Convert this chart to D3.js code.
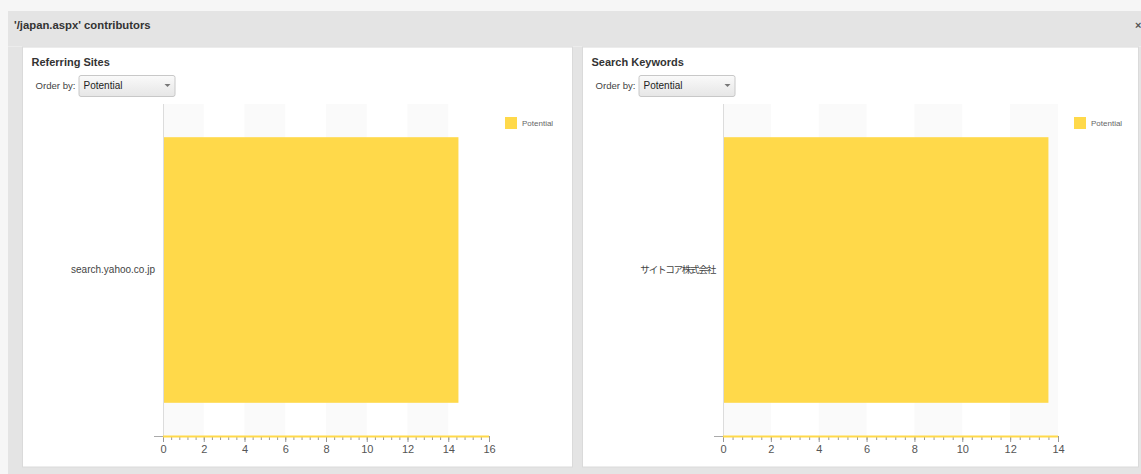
<!DOCTYPE html>
<html><head><meta charset="utf-8">
<script src="https://cdn.jsdelivr.net/npm/d3@7"></script>
<style>
html,body{margin:0;padding:0;background:#f6f6f6;}
svg{display:block;font-family:"Liberation Sans",Arial,sans-serif;}
</style></head>
<body>
<svg id="c" width="1141" height="474"></svg>
<script>
const dialogTitle = "'/japan.aspx' contributors";
const panelTitles = ["Referring Sites", "Search Keywords"];
const orderOptions = ["Potential"];
const seriesName = "Potential";
const leftCategories = ["search.yahoo.co.jp"];
const leftValues = [14.5];
const leftTicks = [0, 2, 4, 6, 8, 10, 12, 14, 16];
const rightCategories = ["サイトコア株式会社"];
const rightValues = [13.6];
const rightTicks = [0, 2, 4, 6, 8, 10, 12, 14];

const svg = d3.select("#c");
const barColor = "#ffd94a";

// chrome
svg.append("rect").attr("x",0).attr("y",0).attr("width",1141).attr("height",474).attr("fill","#f6f6f6");
svg.append("rect").attr("x",8).attr("y",11).attr("width",1133).attr("height",463).attr("fill","#e4e4e4");
svg.append("line").attr("x1",8).attr("x2",1141).attr("y1",46.5).attr("y2",46.5).attr("stroke","#ececec");
svg.append("text").attr("x",14).attr("y",29).attr("font-size",11.3).attr("font-weight","bold").attr("fill","#333").text(dialogTitle);
svg.append("text").attr("x",1135).attr("y",29).attr("font-size",11).attr("font-weight","bold").attr("fill","#555").text("×");

function panel(px, pw, title, cats, vals, ticks, plotX0, plotX1, cjk) {
  const g = svg.append("g");
  g.append("rect").attr("x",px).attr("y",47).attr("width",pw).attr("height",420).attr("fill","#fff")
    .attr("stroke","#dadada").attr("stroke-width",1);
  g.append("text").attr("x",px+9).attr("y",66).attr("font-size",11).attr("font-weight","bold").attr("fill","#333").text(title);
  g.append("text").attr("x",px+13).attr("y",89).attr("font-size",9.6).attr("fill","#444").text("Order by:");
  const grad = "grad"+Math.round(px);
  const lg = svg.append("defs").append("linearGradient").attr("id",grad).attr("x1",0).attr("x2",0).attr("y1",0).attr("y2",1);
  lg.append("stop").attr("offset","0%").attr("stop-color","#fafafa");
  lg.append("stop").attr("offset","100%").attr("stop-color","#e6e6e6");
  g.append("rect").attr("x",px+56.5).attr("y",75.5).attr("width",96).attr("height",21).attr("rx",2)
    .attr("fill",`url(#${grad})`).attr("stroke","#c8c8c8");
  g.append("text").attr("x",px+61).attr("y",89).attr("font-size",10).attr("fill","#222").text(orderOptions[0]);
  g.append("path").attr("d",`M${px+142},${84} l6,0 l-3,3 z`).attr("fill","#777");

  const top = 104, bottom = 436;
  const x = d3.scaleLinear().domain([0, ticks[ticks.length-1]]).range([plotX0, plotX1]);
  const y = d3.scaleBand().domain(cats).range([top, bottom]).paddingInner(0.2).paddingOuter(0.1);

  // stripes
  for (let i = 0; i < ticks.length-1; i += 2) {
    g.append("rect").attr("x",x(ticks[i])).attr("y",top).attr("width",x(ticks[i+1])-x(ticks[i]))
      .attr("height",bottom-top).attr("fill","#fafafa");
  }
  // bars
  g.selectAll(".bar").data(vals).enter().append("rect")
    .attr("x",x(0)).attr("y",(d,i)=>y(cats[i])).attr("width",d=>x(d)-x(0)).attr("height",y.bandwidth())
    .attr("fill",barColor);
  // y axis
  g.append("line").attr("x1",plotX0+0.5).attr("x2",plotX0+0.5).attr("y1",top).attr("y2",bottom).attr("stroke","#dcdcdc");
  const ya = g.append("g").attr("transform",`translate(${plotX0-8},0)`)
    .call(d3.axisLeft(y).tickSize(0).tickPadding(0));
  ya.select(".domain").remove();
  ya.selectAll("text").attr("font-size",cjk ? 9.6 : 10).attr("fill","#444")
    .attr("letter-spacing", cjk ? "-1.3px" : null)
    .attr("font-family",'"Liberation Sans","Noto Sans CJK JP",sans-serif');

  // x axis
  const minor = d3.range(0, ticks[ticks.length-1]+0.0001, 0.4);
  const xm = g.append("g").attr("transform",`translate(0,${bottom})`)
    .call(d3.axisBottom(x).tickValues(minor).tickSize(4).tickFormat(""));
  xm.select(".domain").remove();
  xm.selectAll("line").attr("stroke","#999");
  const xa = g.append("g").attr("transform",`translate(0,${bottom})`)
    .call(d3.axisBottom(x).tickValues(ticks).tickSize(6).tickPadding(3).tickFormat(d3.format("d")));
  xa.select(".domain").remove();
  xa.selectAll("line").attr("stroke","#999");
  xa.selectAll("text").attr("font-size",11).attr("fill","#555").attr("font-family",'"Liberation Sans",Arial,sans-serif');
  g.append("line").attr("x1",plotX0-9).attr("x2",plotX0).attr("y1",bottom+0.5).attr("y2",bottom+0.5).attr("stroke","#aaa");
  g.append("line").attr("x1",plotX0).attr("x2",plotX1).attr("y1",bottom+0.5).attr("y2",bottom+0.5).attr("stroke",barColor).attr("stroke-width",2);

  // legend
  g.append("rect").attr("x",plotX1+16).attr("y",117).attr("width",12).attr("height",12).attr("fill",barColor);
  g.append("text").attr("x",plotX1+33).attr("y",126).attr("font-size",8).attr("fill","#666").text(seriesName);
}

panel(22.5, 550, panelTitles[0], leftCategories, leftValues, leftTicks, 163, 489, false);
panel(582.5, 556, panelTitles[1], rightCategories, rightValues, rightTicks, 723, 1058, true);
</script>
</body></html>
